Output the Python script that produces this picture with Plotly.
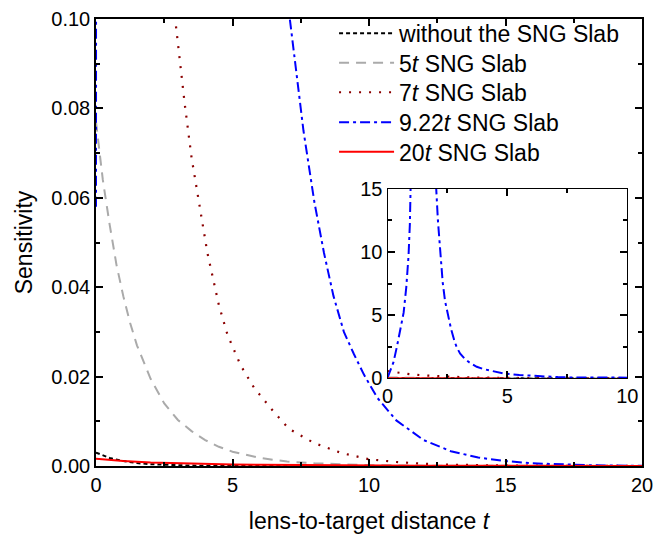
import plotly.graph_objects as go

# ---- data ----
black_t = [0, 0.5, 1, 1.5, 2, 2.5, 3, 3.5, 4, 5, 6, 8, 10, 15, 20]
black_v = [0.0030, 0.0018, 0.0011, 0.00065, 0.0004, 0.00025, 0.00014, 0.00009, 0.00005, 0.00002, 0.00001, 0, 0, 0, 0]

gray_t = [0, 0.25, 0.5, 0.75, 1, 1.25, 1.5, 2, 2.5, 3, 3.5, 4, 4.5, 5, 6, 7, 8, 9, 10, 12, 14, 16, 20]
gray_v = [0.077, 0.064, 0.054, 0.045, 0.038, 0.032, 0.027, 0.0195, 0.0140, 0.0103, 0.0078, 0.0058,
          0.0043, 0.0032, 0.0018, 0.0010, 0.0006, 0.00035, 0.0002, 0.00007, 0.00003, 0.00001, 0]

dred_t = [0, 0.5, 1, 1.5, 2, 2.5, 2.9, 3.25, 3.5, 4.08, 4.5, 4.82, 5.3, 5.79, 6.5, 7.07, 8, 9, 10, 11, 12, 13, 15, 20]
dred_v = [0.57, 0.42, 0.32, 0.24, 0.18, 0.13, 0.1, 0.081, 0.069, 0.0477, 0.036, 0.0293, 0.0225, 0.0175,
          0.0122, 0.0083, 0.0051, 0.0029, 0.0015, 0.0009, 0.0005, 0.0003, 0.0001, 0]

blue_t = [0, 0.01, 0.05, 0.1, 0.15, 0.25, 0.4, 0.55, 0.67, 0.78, 0.875, 0.93, 0.97, 1.02, 1.06,
          1.5,
          1.95, 2.0, 2.03, 2.1, 2.2, 2.3, 2.4, 2.54, 2.65, 2.8, 2.9, 3.03, 3.2, 3.4, 3.72, 4.0, 4.4,
          4.83, 5.5, 6.08, 6.6,
          7.1, 7.6, 8.0, 8.35, 8.7, 9.08, 9.45, 9.81, 10.3, 11, 12, 13, 14, 15, 16, 17, 18, 19, 20]
blue_v = [0.058, 0.11, 0.3, 0.55, 0.82, 1.3, 2.6, 4.0, 5.2, 7.2, 9.7, 12.2, 15, 19, 24,
          None,
          22, 17, 15, 12.5, 9.9, 7.6, 6.1, 4.9, 3.9, 2.9, 2.4, 1.96, 1.6, 1.28, 0.92, 0.74, 0.55,
          0.39, 0.27, 0.19, 0.135,
          0.1, 0.075, 0.059, 0.0477, 0.038, 0.030, 0.025, 0.0205, 0.0153, 0.0102, 0.0058, 0.0033,
          0.0019, 0.0011, 0.0006, 0.00035, 0.0002, 0.0001, 0.00006]

red_t = [0, 1, 2, 3, 4, 5, 6, 8, 10, 12, 15, 20]
red_v = [0.0016, 0.0011, 0.0008, 0.0006, 0.00045, 0.00035, 0.00027, 0.00016, 0.0001, 0.00006, 0.00003, 0.00001]

names = ["without the SNG Slab", "5<i>t</i> SNG Slab", "7<i>t</i> SNG Slab",
         "9.22<i>t</i> SNG Slab", "20<i>t</i> SNG Slab"]

series = [
    (black_t, black_v, "#000000", "4px,3px", 2),
    (gray_t, gray_v, "#AAAAAA", "10px,7px", 2),
    (dred_t, dred_v, "#8B0000", "2px,8px", 2.2),
    (blue_t, blue_v, "#0000FF", "10px,4px,3px,4px", 2),
    (red_t, red_v, "#FF0000", "solid", 2),
]

FONT = "Arial, Liberation Sans, sans-serif"
legend_ids = ["legend", "legend2", "legend3", "legend4", "legend5"]
legend_y = [0.968, 0.902, 0.836, 0.769, 0.703]

fig = go.Figure()
for (t, v, c, d, w), n, lg in zip(series, names, legend_ids):
    fig.add_trace(go.Scatter(x=t, y=v, mode="lines", name=n, legend=lg,
                             line=dict(color=c, dash=d, width=w),
                             xaxis="x", yaxis="y"))
for (t, v, c, d, w), n in zip(series, names):
    fig.add_trace(go.Scatter(x=t, y=v, mode="lines", name=n, showlegend=False,
                             line=dict(color=c, dash=d, width=w),
                             xaxis="x2", yaxis="y2"))

axis_common = dict(showgrid=False, zeroline=False, showline=True, linecolor="black",
                   linewidth=1.5, mirror="allticks", ticks="inside", ticklen=7,
                   tickwidth=1.5, tickcolor="black", automargin=False,
                   tickfont=dict(family=FONT, size=20, color="black"))
minor_common = dict(ticks="inside", ticklen=4, tickcolor="black", tickwidth=1.5)

legends = {}
for lg, ly in zip(legend_ids, legend_y):
    legends[lg] = dict(x=0.436, y=ly, xanchor="left", yanchor="middle",
                       bgcolor="rgba(0,0,0,0)", borderwidth=0,
                       font=dict(family=FONT, size=23, color="black"),
                       itemwidth=55)

fig.update_layout(
    width=669, height=538,
    margin=dict(l=96, r=27, t=13, b=72),
    paper_bgcolor="white", plot_bgcolor="white",
    font=dict(family=FONT, color="black"),
    xaxis=dict(axis_common, domain=[0, 1], range=[0, 20], dtick=5,
               minor=dict(minor_common, dtick=2.5),
               title=dict(text="lens-to-target distance <i>t</i>", font=dict(size=23), standoff=18)),
    yaxis=dict(axis_common, domain=[0, 1], range=[0, 0.1], dtick=0.02, tickformat=".2f",
               minor=dict(minor_common, dtick=0.01),
               title=dict(text="Sensitivity", font=dict(size=23), standoff=12)),
    xaxis2=dict(axis_common, domain=[0.534, 0.973], anchor="y2", range=[0, 10], dtick=5,
                minor=dict(minor_common, dtick=2.5), linewidth=1.2),
    yaxis2=dict(axis_common, domain=[0.196, 0.620], anchor="x2", range=[0, 15], dtick=5,
                minor=dict(minor_common, dtick=2.5), linewidth=1.2),
    showlegend=True,
    **legends,
)

fig.write_html("out.html")
